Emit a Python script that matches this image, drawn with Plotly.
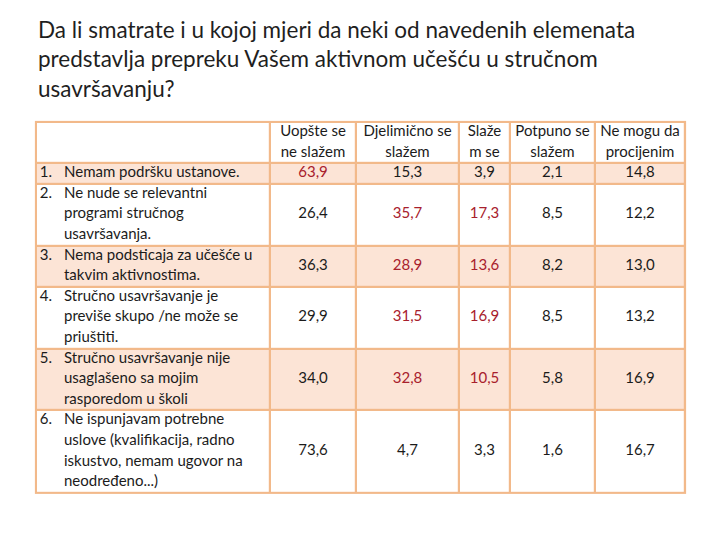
import numpy as np
import plotly.graph_objects as go

# Data.
title_text = (
    'Da li smatrate i u kojoj mjeri da neki od navedenih elemenata<br>'
    'predstavlja prepreku Vašem aktivnom učešću u stručnom<br>'
    'usavršavanju?'
)
column_headers = [
    ['Uopšte se', 'ne slažem'],
    ['Djelimično se', 'slažem'],
    ['Slaže', 'm se'],
    ['Potpuno se', 'slažem'],
    ['Ne mogu da', 'procijenim'],
]
row_labels = [
    ['Nemam podršku ustanove.'],
    ['Ne nude se relevantni', 'programi stručnog', 'usavršavanja.'],
    ['Nema podsticaja za učešće u', 'takvim aktivnostima.'],
    ['Stručno usavršavanje je', 'previše skupo /ne može se', 'priuštiti.'],
    ['Stručno usavršavanje nije', 'usaglašeno sa mojim', 'rasporedom u školi'],
    ['Ne ispunjavam potrebne', 'uslove (kvalifikacija, radno', 'iskustvo, nemam ugovor na', 'neodređeno...)'],
]
values = [
    [63.9, 15.3, 3.9, 2.1, 14.8],
    [26.4, 35.7, 17.3, 8.5, 12.2],
    [36.3, 28.9, 13.6, 8.2, 13.0],
    [29.9, 31.5, 16.9, 8.5, 13.2],
    [34.0, 32.8, 10.5, 5.8, 16.9],
    [73.6, 4.7, 3.3, 1.6, 16.7],
]
highlighted = [
    [1, 0, 0, 0, 0],
    [0, 1, 1, 0, 0],
    [0, 1, 1, 0, 0],
    [0, 1, 1, 0, 0],
    [0, 1, 1, 0, 0],
    [0, 0, 0, 0, 0],
]

# Layout settings.
width, height = 720, 540
table_left, table_top = 28, 114
column_widths = [234, 86, 103, 51, 85, 90]
line_px = 20.6
border = 2.2
number_center, text_indent = 10, 28
font_family = 'Lato, Open Sans, sans-serif'
font_size = 15
border_color = '#F2B98A'
peach = '#FCE4D6'
text_color = '#1b1b1b'
red = '#A8202C'

# Obtain grid geometry (x in pixels, y in text lines).
x_edges = np.concatenate([[0], np.cumsum(column_widths)])
x_centers = 0.5 * (x_edges[:-1] + x_edges[1:])
row_lines = [max(len(h) for h in column_headers)] + [len(label) for label in row_labels]
y_edges = np.concatenate([[0], np.cumsum(row_lines)])
total_width = x_edges[-1]
total_lines = y_edges[-1]
pad_y = (border / 2) / line_px

fill_index = [[0] * len(column_widths)] + [
    [1 if i % 2 == 0 else 0] * len(column_widths) for i in range(len(row_labels))
]

figure = go.Figure()
figure.add_trace(go.Heatmap(
    x=x_edges,
    y=y_edges,
    z=fill_index,
    colorscale=[[0, 'white'], [1, peach]],
    zmin=0, zmax=1,
    showscale=False,
    xgap=border, ygap=border,
    hoverinfo='skip'
))

# Column headers.
header_x, header_y, header_text = [], [], []
for j, lines in enumerate(column_headers):
    for k, line in enumerate(lines):
        header_x.append(x_centers[j + 1])
        header_y.append(k + 0.5)
        header_text.append(line)
figure.add_trace(go.Scatter(
    x=header_x, y=header_y, text=header_text,
    mode='text', textposition='middle center',
    textfont=dict(family=font_family, size=font_size, color=text_color),
    hoverinfo='skip', cliponaxis=False
))

# Row labels (number + wrapped text with hanging indent).
number_x, number_y, number_text = [], [], []
label_x, label_y, label_text = [], [], []
for i, lines in enumerate(row_labels):
    number_x.append(number_center)
    number_y.append(y_edges[i + 1] + 0.5)
    number_text.append(f'{i + 1}.')
    for k, line in enumerate(lines):
        label_x.append(text_indent)
        label_y.append(y_edges[i + 1] + k + 0.5)
        label_text.append(line)
figure.add_trace(go.Scatter(
    x=number_x, y=number_y, text=number_text,
    mode='text', textposition='middle center',
    textfont=dict(family=font_family, size=font_size, color=text_color),
    hoverinfo='skip', cliponaxis=False
))
figure.add_trace(go.Scatter(
    x=label_x, y=label_y, text=label_text,
    mode='text', textposition='middle right',
    textfont=dict(family=font_family, size=font_size, color=text_color),
    hoverinfo='skip', cliponaxis=False
))

# Values.
value_x, value_y, value_text, value_color = [], [], [], []
for i, row in enumerate(values):
    for j, value in enumerate(row):
        value_x.append(x_centers[j + 1])
        value_y.append(0.5 * (y_edges[i + 1] + y_edges[i + 2]))
        value_text.append(f'{value:.1f}'.replace('.', ','))
        value_color.append(red if highlighted[i][j] else text_color)
figure.add_trace(go.Scatter(
    x=value_x, y=value_y, text=value_text,
    mode='text', textposition='middle center',
    textfont=dict(family=font_family, size=font_size, color=value_color),
    hoverinfo='skip', cliponaxis=False
))

figure.add_annotation(
    text=title_text,
    xref='paper', yref='paper',
    x=28 / width, y=1 - 6 / height,
    xanchor='left', yanchor='top', align='left',
    showarrow=False,
    font=dict(family=font_family, size=22.5, color='#1f1f1f')
)

figure.update_layout(
    width=width, height=height,
    showlegend=False,
    margin=dict(b=0, l=0, r=0, t=0),
    paper_bgcolor='white',
    plot_bgcolor=border_color,
    xaxis=dict(
        range=[-border / 2, total_width + border / 2],
        domain=[(table_left - border / 2) / width, (table_left + total_width + border / 2) / width],
        showgrid=False, zeroline=False, showticklabels=False, ticks='', fixedrange=True
    ),
    yaxis=dict(
        range=[total_lines + pad_y, -pad_y],
        domain=[
            1 - (table_top + total_lines * line_px + border / 2) / height,
            1 - (table_top - border / 2) / height
        ],
        showgrid=False, zeroline=False, showticklabels=False, ticks='', fixedrange=True
    )
)
figure.write_html('out.html')
